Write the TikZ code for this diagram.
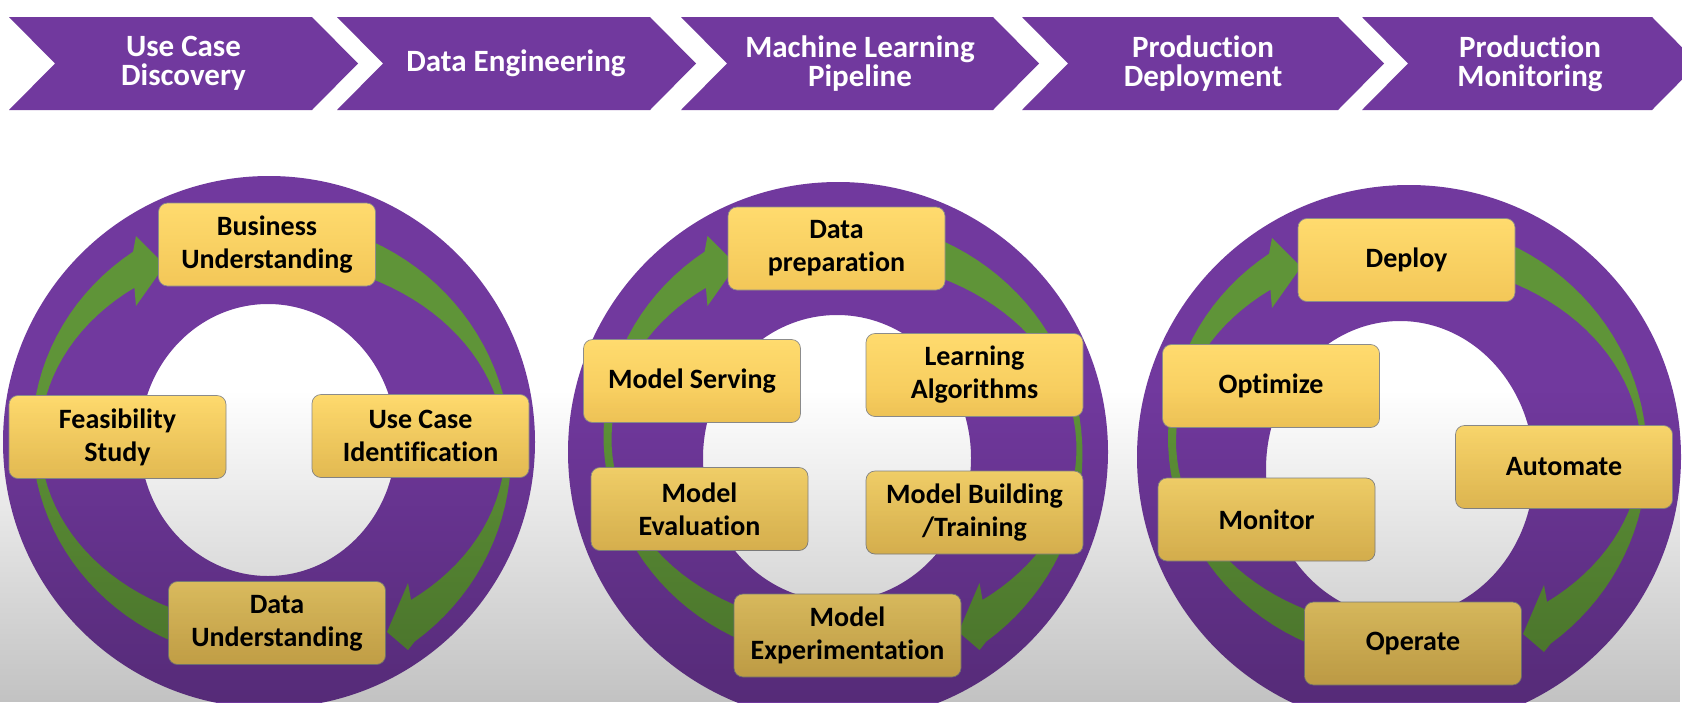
\documentclass[tikz,border=0pt]{standalone}
\usepackage{fontspec}
\setmainfont{Carlito}[Ligatures=NoCommon]
\usetikzlibrary{fadings}

\definecolor{stagepurple}{RGB}{113,57,158}
\definecolor{arrowgreen}{RGB}{95,148,56}
\definecolor{boxtop}{RGB}{255,219,110}
\definecolor{boxbottom}{RGB}{243,199,88}

\begin{document}
\begin{tikzpicture}[x=1pt, y=1pt, yscale=-1,
    stage/.style={text=white, align=center, font=\fontsize{31}{29}\selectfont\bfseries},
    task/.style={draw=black!45, line width=0.7pt, rounded corners=9pt,
        top color=boxtop, bottom color=boxbottom,
        minimum width=217pt, minimum height=83pt, inner sep=2pt,
        align=center, font=\fontsize{28}{33}\selectfont\bfseries}]

\useasboundingbox (0,0) rectangle (1682,702);
\clip (0,0) rectangle (1682,702);
\fill[white] (0,0) rectangle (1682,702);

% Stage chevrons along the top
\foreach \L/\R in {9/312, 337/650, 681/993, 1022/1338, 1362/1652} {
    \fill[stagepurple] (\L,17) -- (\R,17) -- (\R+46,63.5) -- (\R,110)
        -- (\L,110) -- (\L+46,63.5) -- cycle;
}
\node[stage] (discovery) at (183.5,63.5) {Use Case\\Discovery};
\node[stage] (dataeng) at (516,63.5) {Data Engineering};
\node[stage] (mlpipe) at (860,63.5) {Machine Learning\\Pipeline};
\node[stage] (deployment) at (1203,63.5) {Production\\Deployment};
\node[stage] (monitoring) at (1530,63.5) {Production\\Monitoring};

% Purple rings
\fill[stagepurple, even odd rule] (269,442) circle (266) (268,440) ellipse (128 and 136);
\fill[stagepurple, even odd rule] (838,452) circle (270) (837,458) ellipse (134 and 143);
\fill[stagepurple, even odd rule] (1409,457) circle (272) (1400,469) ellipse (134 and 148);

% Green cycle arrows (same shape in every ring)
\foreach \ox/\oy in {269/442, 840.5/442, 1405/444} {
    \begin{scope}[shift={(\ox,\oy)}]
        % left side: bottom box up to top box
        \fill[arrowgreen] plot[domain=111:235, samples=40] ({237*cos(\x)}, {-6+225*sin(\x)})
            -- (-133,-206) -- (-104,-177) -- (-133,-136)
            -- plot[domain=234:112, samples=40] ({229*cos(\x)}, {-3+187*sin(\x)}) -- cycle;
        % right side: top box down to bottom box
        \fill[arrowgreen] plot[domain=-68:53, samples=40] ({242*cos(\x)}, {12+235*sin(\x)})
            -- (139,208) -- (118,190) -- (139,141)
            -- plot[domain=53:-68, samples=40] ({236*cos(\x)}, {7+189*sin(\x)}) -- cycle;
    \end{scope}
}

% Use case discovery cycle
\node[task] (business) at (267,244.5) {Business\\Understanding};
\node[task] (feasibility) at (117.5,437) {Feasibility\\Study};
\node[task] (usecaseid) at (420.5,436) {Use Case\\Identification};
\node[task] (dataunder) at (277,623) {Data\\Understanding};

% Machine learning cycle
\node[task] (dataprep) at (836.5,248.5) {Data\\preparation};
\node[task] (serving) at (692,381) {Model Serving};
\node[task] (learnalgo) at (974.5,375) {Learning\\Algorithms};
\node[task] (evaluation) at (699.5,509) {Model\\Evaluation};
\node[task] (building) at (974.5,512.5) {Model Building\\/Training};
\node[task, minimum width=227pt] (experiment) at (847.5,635.5) {Model\\Experimentation};

% Production cycle
\node[task] (deploy) at (1406.5,260) {Deploy};
\node[task] (optimize) at (1271,386) {Optimize};
\node[task] (automate) at (1564,467) {Automate};
\node[task] (monitor) at (1266.5,519.5) {Monitor};
\node[task] (operate) at (1413,643.5) {Operate};

% Grey haze towards the bottom
\fill[black, opacity=0.24, path fading=north] (0,390) rectangle (1682,702);

\end{tikzpicture}
\end{document}
